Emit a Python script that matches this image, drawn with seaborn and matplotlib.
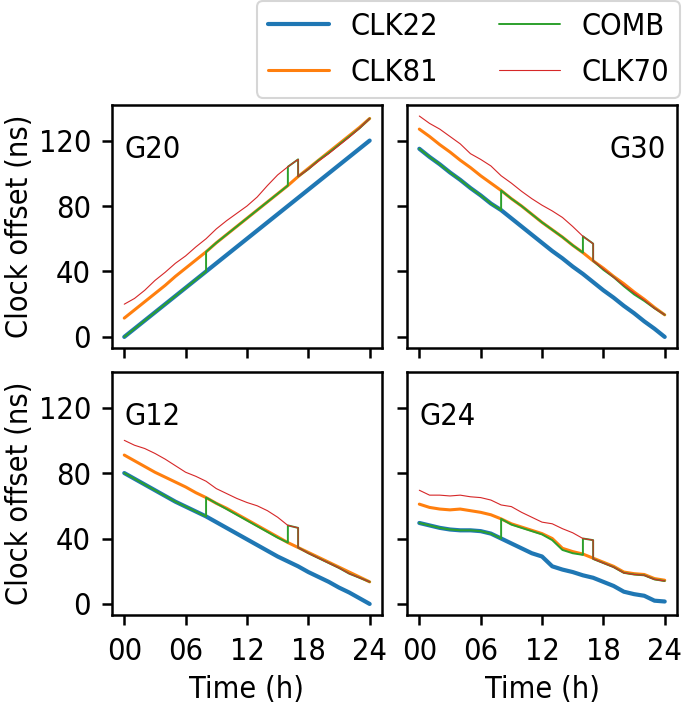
import matplotlib
matplotlib.use("Agg")
import matplotlib.pyplot as plt
import seaborn as sns
import pandas as pd

# ---------------- data ----------------
hours = [0, 1, 2, 3, 4, 5, 6, 7, 8, 9, 10, 11, 12, 13, 14, 15, 16, 17, 18, 19, 20, 21, 22, 23, 24]
clk70_hours = [0, 1, 2, 3, 4, 5, 6, 7, 8, 9, 10, 11, 12, 13, 14, 15, 16, 17, 17, 18, 19, 20, 21, 22, 23, 24]
comb_hours = [0, 1, 2, 3, 4, 5, 6, 7, 8, 8, 9, 10, 11, 12, 13, 14, 15, 16, 16, 17, 17, 18, 19, 20, 21, 22, 23, 24]

panels = ["G20", "G30", "G12", "G24"]
series_names = ["CLK22", "CLK81", "COMB", "CLK70"]
xtick_vals = [0, 6, 12, 18, 24]
xtick_labels = ["00", "06", "12", "18", "24"]
ytick_vals = [0, 40, 80, 120]

# G20
g20_clk22 = [0, 5, 10, 15, 20, 25, 30, 35, 40, 45, 50, 55, 60, 65, 70, 75, 80, 85, 90, 95, 100, 105, 110, 115, 120]
g20_clk81 = [11.5, 16.5, 21.5, 26.5, 31.5, 37, 42, 47, 52, 57.5, 62.5, 67.5, 72.5, 77.5, 82.5, 87.5, 92.5, 98, 103, 108, 113, 118, 123, 128, 133.5]
g20_clk70 = [20, 23.5, 28.5, 34.5, 39.5, 45, 49.5, 55, 60, 66, 71, 75.5, 80, 85.5, 92.5, 99, 104, 108.5,
             98, 102.5, 107.5, 112, 117, 122, 127.5, 133.5]
g20_comb = [0, 5, 10, 15, 20, 25, 30, 35, 40, 52, 57.5, 62.5, 67.5, 72.5, 77.5, 82.5, 87.5, 92.5,
            104, 108.5, 98, 102.5, 108, 112.5, 117.5, 122.5, 127.5, 133.5]

# G30
g30_clk22 = [115, 110, 105.5, 100.5, 96, 91, 86.5, 81.5, 77.5, 72.5, 67.5, 62.5, 57.5, 52.5, 48, 43, 38.5, 33.5, 28.5, 24, 19, 14.5, 9.5, 5, 0]
g30_clk81 = [127, 122.5, 117.5, 113, 108, 103.5, 98.5, 94, 89.5, 84.5, 80, 75, 70, 65.5, 61, 56, 51.5, 46.5, 42, 37, 32.5, 27.5, 23, 18, 13.5]
g30_clk70 = [135, 130.5, 127, 122.5, 118, 112, 108.5, 104.5, 98.5, 94, 89, 84.5, 80.5, 77, 73, 67.5, 61.5, 57,
             46.5, 41.5, 36.5, 31.5, 27, 22.5, 17.5, 13.5]
g30_comb = [115, 110, 105.5, 100.5, 96, 91, 86.5, 81.5, 77.5, 89.5, 84.5, 80, 75, 70, 65.5, 61, 56, 51.5,
            61.5, 57, 46.5, 41, 36.5, 31, 26, 22, 17.5, 13.5]

# G12
g12_clk22 = [80, 76.5, 73, 69.5, 66, 62.5, 59.5, 56.5, 53.5, 50, 46.5, 43, 39.5, 36, 32.5, 29, 26, 23, 19.5, 16.5, 13.5, 10, 7, 3.5, 0]
g12_clk81 = [91, 87.5, 84, 80.5, 77.5, 74.5, 71.5, 68, 65, 61.5, 58.5, 55, 51.5, 48, 44.5, 41, 37.5, 34.5, 31.5, 28.5, 25.5, 22.5, 19.5, 16.5, 13.5]
g12_clk70 = [100, 97, 95, 92, 88.5, 84.5, 80.5, 78, 75, 70.5, 67.5, 64.5, 62, 60, 57, 53, 48, 46.5,
             34.5, 31, 28, 25, 22, 18.5, 16, 13.5]
g12_comb = [80, 76.5, 73, 69.5, 66, 62.5, 59.5, 56.5, 53.5, 65, 61.5, 58, 54.5, 51, 47.5, 44, 40.5, 37.5,
            48, 46.5, 34.5, 31, 28, 25, 22, 18.5, 16, 13.5]

# G24
g24_clk22 = [49.5, 48, 46.5, 45.5, 45, 45, 44.5, 43, 40, 37, 34, 31, 29, 23, 21, 19.5, 17.5, 16, 13.5, 11, 7.5, 6, 5, 2, 1.5]
g24_clk81 = [61, 59, 58, 57.5, 58, 57, 56, 54.5, 52, 49, 47, 45, 43, 40, 34, 32, 30.5, 28, 25.5, 23, 19.5, 18.5, 18, 15.5, 14.5]
g24_clk70 = [69.5, 66.5, 66.5, 66, 66.5, 65.5, 65, 63.5, 60.5, 59.5, 56, 53, 50, 49, 46, 43.5, 40, 39,
             27.5, 25, 22.5, 19, 18, 17.5, 15, 14]
g24_comb = [49.5, 48, 46.5, 45.5, 45, 45, 44.5, 43, 40, 52, 48.5, 46.5, 44.5, 42.5, 39, 33, 31, 30,
            40, 39, 27.5, 25, 22.5, 19, 18, 17.5, 15, 14]

panel_data = {
    "G20": (g20_clk22, g20_clk81, g20_comb, g20_clk70),
    "G30": (g30_clk22, g30_clk81, g30_comb, g30_clk70),
    "G12": (g12_clk22, g12_clk81, g12_comb, g12_clk70),
    "G24": (g24_clk22, g24_clk81, g24_comb, g24_clk70),
}

# ---------------- style ----------------
sns.set_theme(style="ticks")
plt.rcParams["font.family"] = ["DejaVu Sans"]
plt.rcParams["font.stretch"] = "condensed"
plt.rcParams["text.color"] = "black"
FS = 22
colors = {"CLK22": "#1f77b4", "CLK81": "#ff7f0e", "COMB": "#2ca02c", "CLK70": "#d62728"}
widths = {"CLK22": 3.0, "CLK81": 2.2, "COMB": 1.4, "CLK70": 0.8}
xs_for = {"CLK22": hours, "CLK81": hours, "COMB": comb_hours, "CLK70": clk70_hours}

fig, axes = plt.subplots(2, 2, figsize=(6.85, 7.06), dpi=100, sharex=True, sharey=True)
fig.subplots_adjust(left=0.1635, right=0.9883, top=0.8513, bottom=0.1289, wspace=0.093, hspace=0.099)

label_pos = {"G20": (0.048, 0.78, "left"), "G30": (0.959, 0.78, "right"),
             "G12": (0.048, 0.78, "left"), "G24": (0.047, 0.78, "left")}

for ax, name in zip(axes.flat, panels):
    for sname, vals in zip(series_names, panel_data[name]):
        df = pd.DataFrame({"t": xs_for[sname], "v": vals})
        sns.lineplot(data=df, x="t", y="v", ax=ax, color=colors[sname], linewidth=widths[sname],
                     sort=False, estimator=None, label=sname, legend=False)
    x, y, ha = label_pos[name]
    ax.text(x, y, name, transform=ax.transAxes, ha=ha, va="baseline", fontsize=FS, color="black")
    ax.set_xticks(xtick_vals)
    ax.set_xticklabels(xtick_labels)
    ax.set_yticks(ytick_vals)
    ax.tick_params(length=7, width=1.8, labelsize=FS, color="black", labelcolor="black")
    ax.tick_params(axis="x", pad=9)
    ax.tick_params(axis="y", pad=8)
    for sp in ax.spines.values():
        sp.set_linewidth(1.8)
        sp.set_color("black")
    ax.set_xlabel("")
    ax.set_ylabel("")

for ax in axes[:, 0]:
    ax.set_ylabel("Clock offset (ns)", fontsize=FS, labelpad=3, color="black")
for ax in axes[1, :]:
    ax.set_xlabel("Time (h)", fontsize=FS, labelpad=6, color="black")

handles = axes[0, 0].get_lines()[:4]
leg = fig.legend(handles, series_names, ncol=2, loc="upper right", bbox_to_anchor=(680 / 685, 1 - 1 / 706),
                 borderaxespad=0, frameon=True, fancybox=True, fontsize=FS, handlelength=2.0,
                 handletextpad=0.7, columnspacing=2.0, borderpad=0.35, labelspacing=0.56)
leg.get_frame().set_edgecolor("#cccccc")
leg.get_frame().set_linewidth(1.5)

fig.savefig("out.png", dpi=100)
